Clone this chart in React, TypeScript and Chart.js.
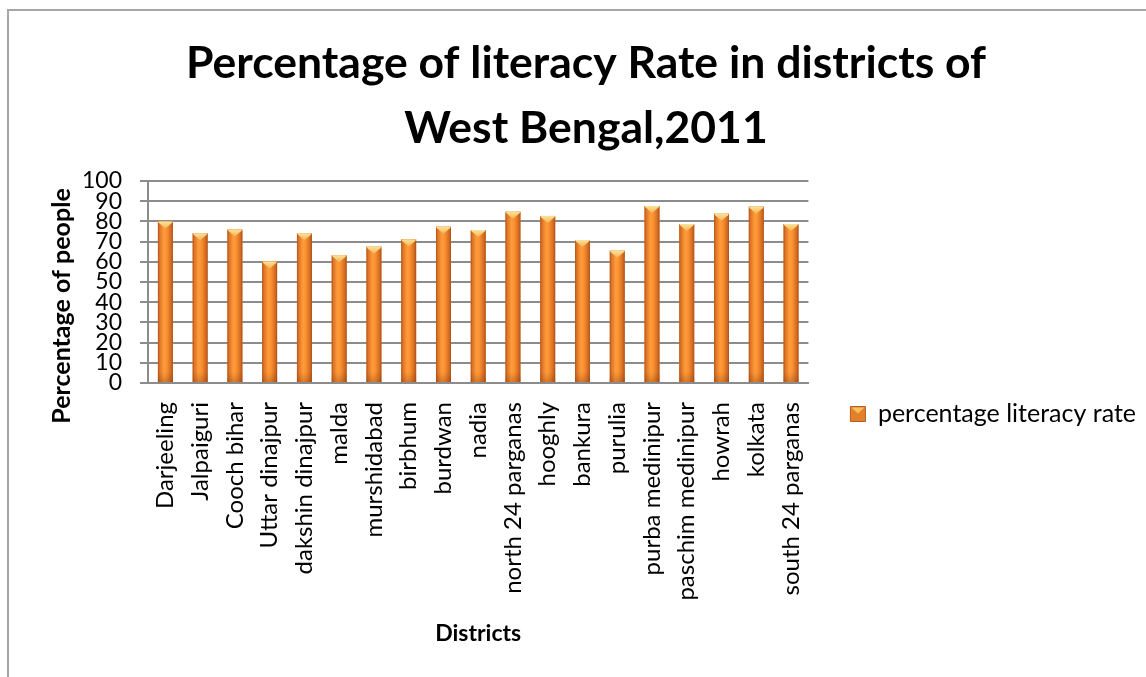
import React, { useEffect, useRef } from "react";
import { Chart, registerables } from "chart.js";

Chart.register(...registerables);

const titleLines = ["Percentage of literacy Rate in districts of", "West Bengal,2011"];
const yAxisTitle = "Percentage of people";
const xAxisTitle = "Districts";
const seriesName = "percentage literacy rate";

const districts = [
  "Darjeeling",
  "Jalpaiguri",
  "Cooch bihar",
  "Uttar dinajpur",
  "dakshin dinajpur",
  "malda",
  "murshidabad",
  "birbhum",
  "burdwan",
  "nadia",
  "north 24 parganas",
  "hooghly",
  "bankura",
  "purulia",
  "purba medinipur",
  "paschim medinipur",
  "howrah",
  "kolkata",
  "south 24 parganas",
];

const literacyRate = [
  79.9, 74.1, 76.0, 60.2, 74.1, 63.2, 67.5, 71.1, 77.4, 75.7, 84.8, 82.7, 70.8,
  65.5, 87.6, 78.7, 83.8, 87.3, 78.7,
];

const yTicks = [0, 10, 20, 30, 40, 50, 60, 70, 80, 90, 100];

const FONT = "Lato, 'Noto Sans', sans-serif";
const LEGEND_SIZE = 25;
const LEGEND_PAD = 42;
const LEGEND_BOX = 15;
const PLOT_RIGHT = 810;

const barStylePlugin = {
  id: "barStyle",
  afterDatasetsDraw(chart: any) {
    const ctx = chart.ctx;
    const meta = chart.getDatasetMeta(0);
    ctx.save();
    meta.data.forEach((bar: any) => {
      const { x, y, base, width } = bar.getProps(["x", "y", "base", "width"], true);
      const left = x - width / 2;
      const right = x + width / 2;
      const top = Math.min(y, base);
      const bottom = Math.max(y, base);
      const g = ctx.createLinearGradient(left, 0, right, 0);
      g.addColorStop(0, "#b0531a");
      g.addColorStop(0.12, "#dd7428");
      g.addColorStop(0.4, "#ff9c3a");
      g.addColorStop(0.6, "#f99031");
      g.addColorStop(0.88, "#d26a22");
      g.addColorStop(1, "#a84e17");
      ctx.fillStyle = g;
      ctx.fillRect(left, top, width, bottom - top);
      const vg = ctx.createLinearGradient(0, bottom - 10, 0, bottom);
      vg.addColorStop(0, "rgba(110,45,10,0)");
      vg.addColorStop(1, "rgba(110,45,10,0.28)");
      ctx.fillStyle = vg;
      ctx.fillRect(left, bottom - 10, width, 10);
      const cg = ctx.createLinearGradient(0, top, 0, top + 7);
      cg.addColorStop(0, "#fde29a");
      cg.addColorStop(1, "#f2b552");
      ctx.fillStyle = cg;
      ctx.beginPath();
      ctx.moveTo(left, top);
      ctx.lineTo(right, top);
      ctx.lineTo(right - 1, top + 1.5);
      ctx.lineTo(x, top + 7);
      ctx.lineTo(left + 1, top + 1.5);
      ctx.closePath();
      ctx.fill();
    });
    ctx.restore();
  },
};

const textPlugin = {
  id: "extraText",
  afterDraw(chart: any) {
    const ctx = chart.ctx;
    const area = chart.chartArea;
    ctx.save();
    ctx.fillStyle = "#000";
    ctx.font = `bold 44.5px ${FONT}`;
    ctx.textAlign = "center";
    ctx.textBaseline = "alphabetic";
    ctx.fillText(titleLines[0], 586, 78);
    ctx.fillText(titleLines[1], 586, 143);
    ctx.font = `bold 25px ${FONT}`;
    ctx.textBaseline = "middle";
    ctx.translate(62, area.top + 125);
    ctx.rotate(-Math.PI / 2);
    ctx.fillText(yAxisTitle, 0, 0);
    ctx.restore();
    const legend = chart.legend;
    if (legend && legend.legendHitBoxes && legend.legendHitBoxes[0]) {
      const hb = legend.legendHitBoxes[0];
      const bx = hb.left;
      const by = hb.top + (hb.height - LEGEND_BOX) / 2;
      ctx.save();
      ctx.fillStyle = "#f6c15a";
      ctx.beginPath();
      ctx.moveTo(bx + 1, by + 1);
      ctx.lineTo(bx + LEGEND_BOX - 1, by + 1);
      ctx.lineTo(bx + LEGEND_BOX / 2, by + 7);
      ctx.closePath();
      ctx.fill();
      ctx.restore();
    }
  },
};

export default function App() {
  const ref = useRef<HTMLCanvasElement | null>(null);

  useEffect(() => {
    let chart: Chart | null = null;
    let cancelled = false;
    const fontsReady = Promise.all([
      document.fonts.load(`${LEGEND_SIZE}px Lato`),
      document.fonts.load(`bold 24px Lato`),
    ]).catch(() => null);

    fontsReady.then(() => {
      if (cancelled || !ref.current) return;
      const mctx = ref.current.getContext("2d")!;
      mctx.save();
      mctx.font = `${LEGEND_SIZE}px ${FONT}`;
      const textW = mctx.measureText(seriesName).width;
      mctx.restore();
      const legendW = LEGEND_PAD + LEGEND_BOX + LEGEND_SIZE / 2 + textW + 10;
      const rightPad = Math.max(0, 1146 - PLOT_RIGHT - legendW);

      chart = new Chart(ref.current, {
        type: "bar",
        data: {
          labels: districts,
          datasets: [
            {
              label: seriesName,
              data: literacyRate,
              backgroundColor: "#f08a2c",
              borderWidth: 0,
              barPercentage: 0.43,
              categoryPercentage: 1,
            },
          ],
        },
        options: {
          responsive: false,
          animation: false,
          layout: { padding: { top: 181, bottom: 30, left: 0, right: rightPad } },
          plugins: {
            title: { display: false },
            tooltip: { enabled: false },
            legend: {
              position: "right",
              maxWidth: 500,
              labels: {
                boxWidth: LEGEND_BOX,
                boxHeight: LEGEND_BOX,
                padding: LEGEND_PAD,
                color: "#000",
                font: { family: FONT, size: LEGEND_SIZE },
                generateLabels: () => [
                  {
                    text: seriesName,
                    fillStyle: "#e3802c",
                    strokeStyle: "#b65c1c",
                    lineWidth: 1,
                    hidden: false,
                    datasetIndex: 0,
                  },
                ],
              },
            },
          },
          scales: {
            x: {
              afterFit(scale: any) {
                scale.height = 264;
              },
              grid: { display: false, drawTicks: false },
              border: { display: true, color: "#8c8c8c", width: 2 },
              ticks: {
                autoSkip: false,
                maxRotation: 90,
                minRotation: 90,
                padding: 19,
                color: "#000",
                font: { family: FONT, size: 24 },
              },
              title: {
                display: true,
                text: xAxisTitle,
                color: "#000",
                font: { family: FONT, size: 23, weight: "bold", lineHeight: 1.2 },
                padding: { top: 0, bottom: 0 },
              },
            },
            y: {
              min: 0,
              max: 100,
              afterFit(scale: any) {
                scale.width = 148;
              },
              afterBuildTicks(scale: any) {
                scale.ticks = yTicks.map((v) => ({ value: v }));
              },
              grid: { color: "#8c8c8c", lineWidth: 2, tickLength: 8, drawTicks: true },
              border: { display: true, color: "#8c8c8c", width: 2 },
              ticks: {
                autoSkip: false,
                padding: 18,
                color: "#000",
                font: { family: FONT, size: 23, lineHeight: 1 },
              },
            },
          },
        },
        plugins: [barStylePlugin, textPlugin],
      });
    });
    return () => {
      cancelled = true;
      if (chart) chart.destroy();
    };
  }, []);

  return (
    <div style={{ position: "fixed", inset: 0, overflow: "hidden", background: "#fff" }}>
      <div
        style={{
          position: "absolute",
          left: 7,
          top: 9,
          width: 1400,
          height: 900,
          border: "2px solid #a6a6a6",
          boxSizing: "border-box",
        }}
      />
      <canvas
        ref={ref}
        width={1146}
        height={677}
        style={{ position: "absolute", left: 0, top: 0, width: 1146, height: 677 }}
      />
    </div>
  );
}
